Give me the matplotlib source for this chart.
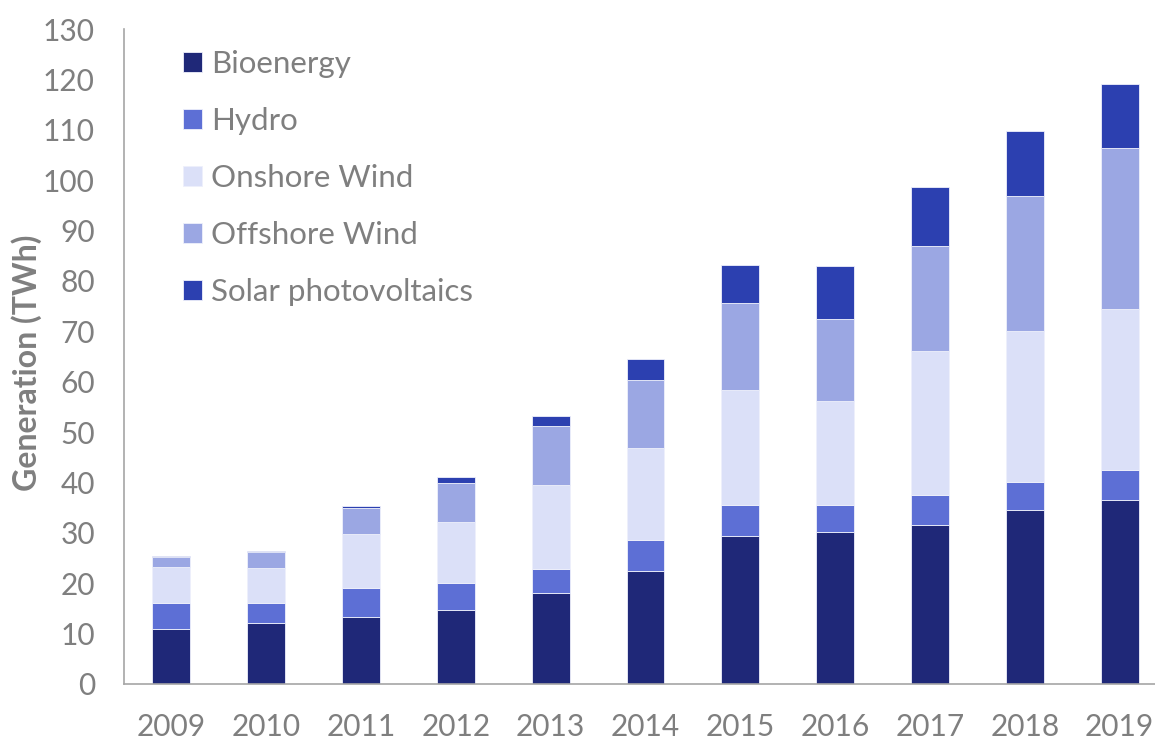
import matplotlib
matplotlib.use('Agg')
import matplotlib.pyplot as plt
import numpy as np

plt.rcParams['font.family'] = ['Lato', 'DejaVu Sans']

years = ['2009', '2010', '2011', '2012', '2013', '2014',
         '2015', '2016', '2017', '2018', '2019']

# generation by source, TWh
bioenergy = [10.9, 12.2, 13.3, 14.7, 18.1, 22.5, 29.3, 30.1, 31.6, 34.6, 36.6]
hydro = [5.1, 3.8, 5.7, 5.3, 4.7, 6.0, 6.2, 5.4, 6.0, 5.5, 5.9]
onshore = [7.3, 7.1, 10.8, 12.2, 16.7, 18.4, 22.8, 20.6, 28.4, 30.0, 31.9]
offshore = [2.0, 3.0, 5.2, 7.6, 11.7, 13.5, 17.3, 16.3, 21.0, 26.8, 31.9]
solar = [0.2, 0.2, 0.3, 1.3, 2.0, 4.1, 7.6, 10.5, 11.7, 12.9, 12.7]

series = [
    ('Bioenergy', bioenergy, '#1f2878'),
    ('Hydro', hydro, '#5d6fd5'),
    ('Onshore Wind', onshore, '#dbe0f8'),
    ('Offshore Wind', offshore, '#9ba7e3'),
    ('Solar photovoltaics', solar, '#2c40b0'),
]

grey = '#7f7f7f'

fig = plt.figure(figsize=(11.55, 7.4), dpi=100)
ax = fig.add_axes([0.1074, 0.0757, 0.903, 0.8851])

x = np.arange(len(years))
bottom = np.zeros(len(years))
for name, vals, col in series:
    vals = np.array(vals)
    ax.bar(x, vals, 0.4, bottom=bottom, color=col, label=name,
           edgecolor='#eef0fb', linewidth=0.6)
    bottom += vals

ax.set_xlim(-0.5, 10.5)
ax.set_ylim(0, 130)
ax.set_yticks(np.arange(0, 131, 10))
ax.set_xticks(x)
ax.set_xticklabels(years)
ax.tick_params(length=0, pad=21, labelsize=21.5, labelcolor=grey)

for s in ['top', 'right']:
    ax.spines[s].set_visible(False)
for s in ['left', 'bottom']:
    ax.spines[s].set_color('#a6a6a6')
    ax.spines[s].set_linewidth(1.2)

fig.text(27 / 1155, 1 - 363 / 740, 'Generation (TWh)', rotation=90,
         ha='center', va='center', fontsize=23, fontweight='bold', color=grey)

leg = ax.legend(loc='upper left', bbox_to_anchor=(183 / 1155, 1 - 50 / 740),
                bbox_transform=fig.transFigure, frameon=False, fontsize=22.5,
                borderpad=0, borderaxespad=0, labelspacing=0.93,
                handlelength=0.6, handleheight=0.6, handletextpad=0.3)
for t in leg.get_texts():
    t.set_color(grey)

fig.savefig('out.png', dpi=100)
